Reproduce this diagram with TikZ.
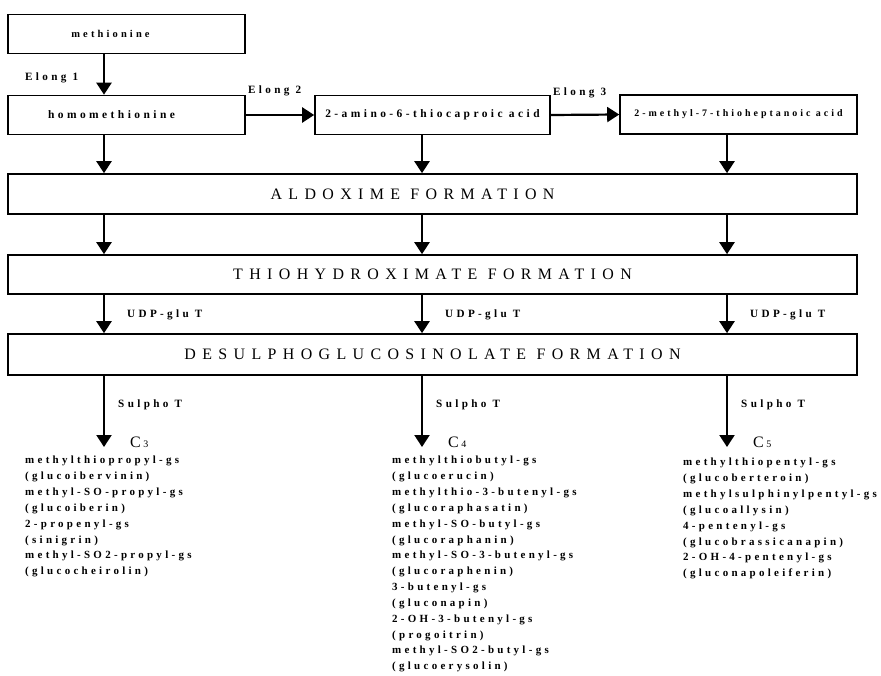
\documentclass[tikz,border=0pt]{standalone}
\usepackage{fontspec}
\setmainfont{Liberation Serif}
\newfontfamily\spcfont[LetterSpace=30]{Liberation Serif}
\newfontfamily\capsfont[LetterSpace=40]{Liberation Serif}
\usetikzlibrary{arrows.meta}

\begin{document}
\begin{tikzpicture}[x=1bp, y=-1bp,
    box/.style={draw, line width=1.6bp, rectangle, inner sep=0pt},
    acid/.style={box, minimum width=237bp, minimum height=39bp, font=\spcfont\bfseries\fontsize{11.5}{13}\selectfont},
    stage/.style={box, minimum width=849bp, minimum height=40bp, font=\capsfont\fontsize{16}{18}\selectfont},
    arr/.style={line width=2.2bp, -{Triangle[length=12bp, width=15bp]}},
    lab/.style={font=\spcfont\bfseries\fontsize{11.2}{13}\selectfont, inner sep=0pt, anchor=west},
    clab/.style={font=\fontsize{16}{18}\selectfont, inner sep=0pt, anchor=west},
    list/.style={font=\spcfont\bfseries\fontsize{11}{15.9}\selectfont, align=left, anchor=north west, inner sep=0pt}
]
\useasboundingbox (0,0) rectangle (881,676);

% Amino acid boxes
\node[acid, font=\spcfont\bfseries\fontsize{10.5}{12}\selectfont] (meth) at (126.5,34) {methionine\hspace*{32bp}};
\node[acid] (homo) at (126.5,115) {homomethionine\hspace*{30bp}};
\node[acid, minimum width=235bp] (amino) at (432.5,115) {2-amino-6-thiocaproic acid};
\node[acid, font=\spcfont\bfseries\fontsize{10}{12}\selectfont] (methyl) at (738.5,114.5) {2-methyl-7-thioheptanoic acid};

% Formation stages
\node[stage] (aldox) at (432.5,194) {ALDOXIME FORMATION\hspace*{40bp}};
\node[stage, minimum height=39bp] (thio) at (432.5,274.5) {THIOHYDROXIMATE FORMATION};
\node[stage, minimum height=41bp] (desulph) at (432.5,354.5) {DESULPHOGLUCOSINOLATE FORMATION};

% Column positions
\coordinate (c1) at (104,0);
\coordinate (c2) at (422,0);
\coordinate (c3) at (727,0);

% Elongation steps
\draw[arr] (meth.south -| c1) -- (homo.north -| c1);
\draw[arr] (homo.east) -- (amino.west);
\draw[arr] (amino.east) -- (methyl.west);
\node[lab] (e1) at (25,78) {Elong 1};
\node[lab] (e2) at (248,91) {Elong 2};
\node[lab] (e3) at (553,93) {Elong 3};

% Down into the stages
\foreach \n/\c in {homo/c1, amino/c2, methyl/c3}{
    \draw[arr] (\n.south -| \c) -- (aldox.north -| \c);
}
\foreach \c in {c1,c2,c3}{
    \draw[arr] (aldox.south -| \c) -- (thio.north -| \c);
    \draw[arr] (thio.south -| \c) -- (desulph.north -| \c);
}

% UDP-glu T and Sulpho T
\foreach \i/\x in {1/127, 2/445, 3/750}{
    \node[lab] (udp\i) at (\x,315) {UDP-glu T};
}
\foreach \i/\x in {1/104, 2/422, 3/727}{
    \coordinate (end\i) at (\x,447);
    \draw[arr] (desulph.south -| c\i) -- (end\i);
    \node[lab] (sulpho\i) at (\x+14,405) {Sulpho T};
    \node[clab] (chain\i) at (\x+26,442) {C\,{\fontsize{10}{11}\selectfont\the\numexpr\i+2\relax}};
}

% Glucosinolates per chain length
\node[list] (gs3) at (25,456) {methylthiopropyl-gs\\(glucoibervinin)\\methyl-SO-propyl-gs\\(glucoiberin)\\2-propenyl-gs\\(sinigrin)\\methyl-SO2-propyl-gs\\(glucocheirolin)};
\node[list] (gs4) at (392,456) {methylthiobutyl-gs\\(glucoerucin)\\methylthio-3-butenyl-gs\\(glucoraphasatin)\\methyl-SO-butyl-gs\\(glucoraphanin)\\methyl-SO-3-butenyl-gs\\(glucoraphenin)\\3-butenyl-gs\\(gluconapin)\\2-OH-3-butenyl-gs\\(progoitrin)\\methyl-SO2-butyl-gs\\(glucoerysolin)};
\node[list] (gs5) at (683,458) {methylthiopentyl-gs\\(glucoberteroin)\\methylsulphinylpentyl-gs\\(glucoallysin)\\4-pentenyl-gs\\(glucobrassicanapin)\\2-OH-4-pentenyl-gs\\(gluconapoleiferin)};

\end{tikzpicture}
\end{document}
